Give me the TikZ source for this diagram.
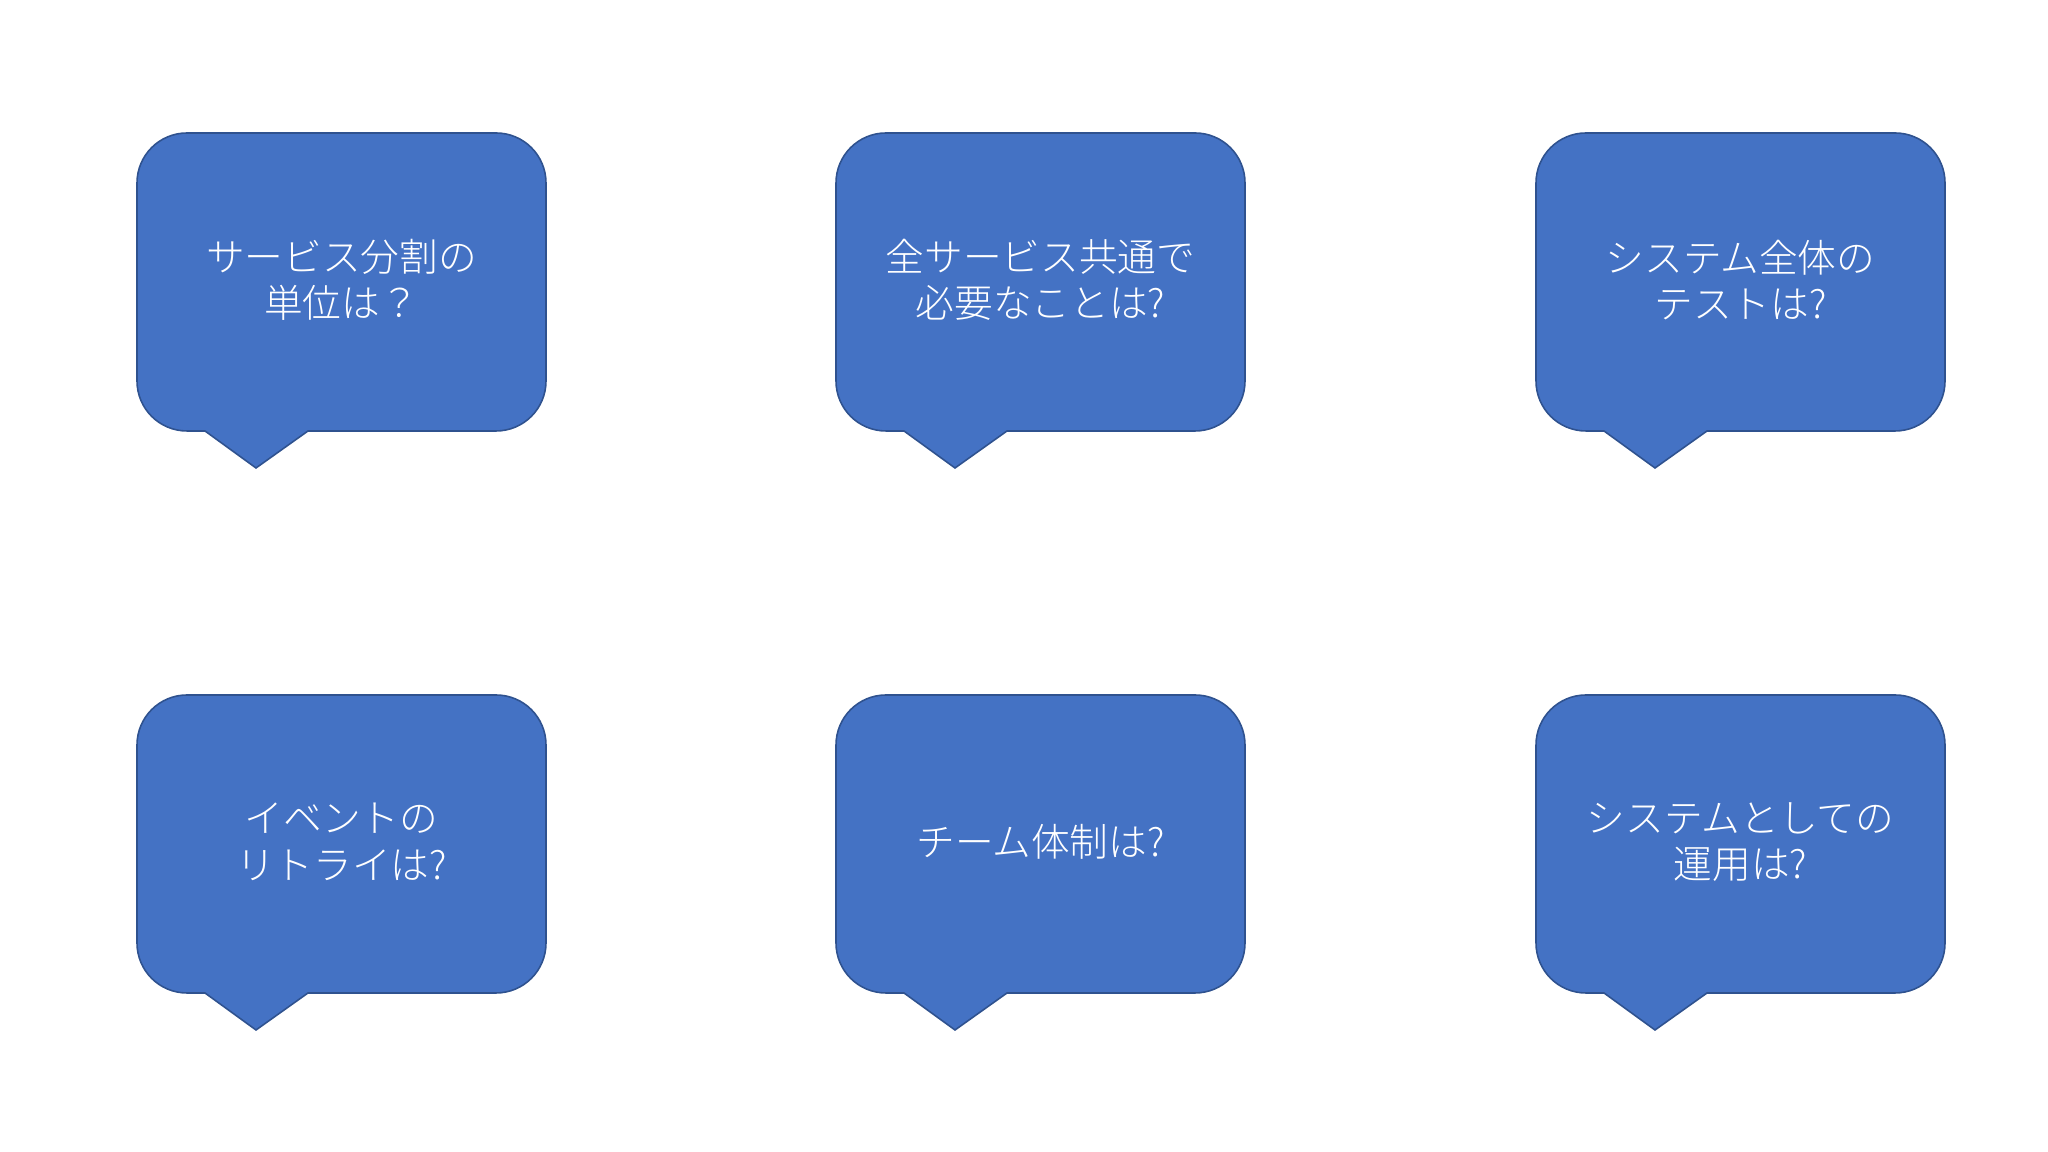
\documentclass[tikz,border=0pt]{standalone}
\usepackage{fontspec}
\newfontfamily\jpfont{Noto Sans CJK JP Light}
\usepackage{tikz}
\definecolor{bubblefill}{HTML}{4472C4}
\definecolor{bubbleline}{HTML}{2F528F}
\tikzset{
  bubble/.style={fill=bubblefill, draw=bubbleline, line width=0.45pt},
  say/.style={text=white, align=center, inner sep=0pt,
    font=\jpfont\fontsize{11pt}{13.2pt}\selectfont}
}
% speech bubble: name, left, bottom, text
\newcommand{\bubble}[4]{
  \begin{scope}[shift={(#2,#3)}]
    \draw[bubble] (68,0) -- (50,0) arc[start angle=270, end angle=180, radius=50]
      -- (0,248) arc[start angle=180, end angle=90, radius=50]
      -- (359,298) arc[start angle=90, end angle=0, radius=50]
      -- (409,50) arc[start angle=0, end angle=-90, radius=50]
      -- (171,0) -- (119,-37) -- cycle;
    \node[say] (#1) at (204.5,151) {#4};
  \end{scope}
}

\begin{document}
\begin{tikzpicture}[x=0.01cm, y=0.01cm]

  \useasboundingbox (0,0) rectangle (2048,1152);

  \bubble{unit}{137}{721}{サービス分割の\\単位は？}
  \bubble{common}{836}{721}{全サービス共通で\\必要なことは?}
  \bubble{test}{1536}{721}{システム全体の\\テストは?}

  \bubble{retry}{137}{159}{イベントの\\リトライは?}
  \bubble{team}{836}{159}{チーム体制は?}
  \bubble{ops}{1536}{159}{システムとしての\\運用は?}

\end{tikzpicture}
\end{document}
